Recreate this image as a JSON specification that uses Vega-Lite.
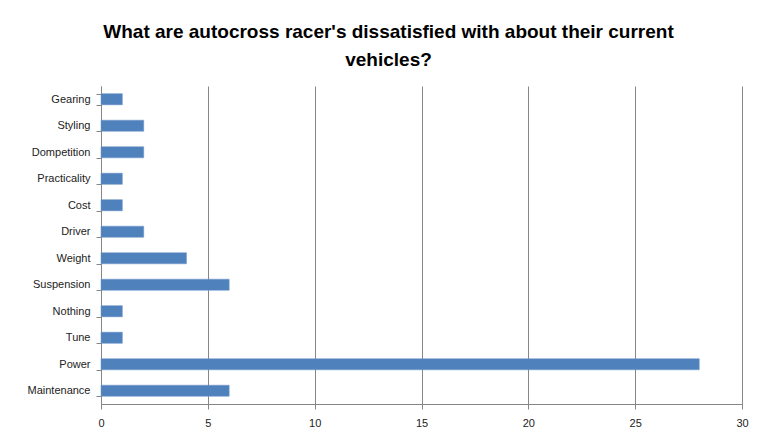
{
  "$schema": "https://vega.github.io/schema/vega-lite/v6.json",
  "autosize": {"type": "none"},
  "width": 641,
  "height": 318,
  "padding": {"left": 101, "top": 86, "right": 16, "bottom": 43},
  "background": "white",
  "title": {
    "text": ["What are autocross racer's dissatisfied with about their current", "vehicles?"],
    "font": "Liberation Sans",
    "fontSize": 19,
    "fontWeight": "bold",
    "color": "#000000",
    "anchor": "middle",
    "dx": -33,
    "offset": 10,
    "lineHeight": 28
  },
  "data": {
    "values": [
      {"reason": "Gearing", "count": 1},
      {"reason": "Styling", "count": 2},
      {"reason": "Dompetition", "count": 2},
      {"reason": "Practicality", "count": 1},
      {"reason": "Cost", "count": 1},
      {"reason": "Driver", "count": 2},
      {"reason": "Weight", "count": 4},
      {"reason": "Suspension", "count": 6},
      {"reason": "Nothing", "count": 1},
      {"reason": "Tune", "count": 1},
      {"reason": "Power", "count": 28},
      {"reason": "Maintenance", "count": 6}
    ]
  },
  "mark": {"type": "bar", "color": "#4F81BD", "stroke": "#6E97C9", "strokeWidth": 0.5},
  "encoding": {
    "y": {
      "field": "reason",
      "type": "nominal",
      "sort": null,
      "scale": {"paddingInner": 0.58, "paddingOuter": 0.29},
      "axis": {
        "title": null,
        "labelFont": "Liberation Sans",
        "labelFontSize": 11,
        "labelColor": "#222222",
        "labelPadding": 6,
        "tickBand": "extent",
        "tickColor": "#868686",
        "tickSize": 5,
        "domainColor": "#868686",
        "grid": false
      }
    },
    "x": {
      "field": "count",
      "type": "quantitative",
      "scale": {"domain": [0, 30], "nice": false},
      "axis": {
        "title": null,
        "values": [0, 5, 10, 15, 20, 25, 30],
        "labelFont": "Liberation Sans",
        "labelFontSize": 11,
        "labelColor": "#222222",
        "labelPadding": 8,
        "labelFlush": false,
        "tickColor": "#868686",
        "tickSize": 5,
        "domainColor": "#868686",
        "grid": true,
        "gridColor": "#868686",
        "gridWidth": 1
      }
    }
  },
  "config": {"view": {"stroke": null}}
}
